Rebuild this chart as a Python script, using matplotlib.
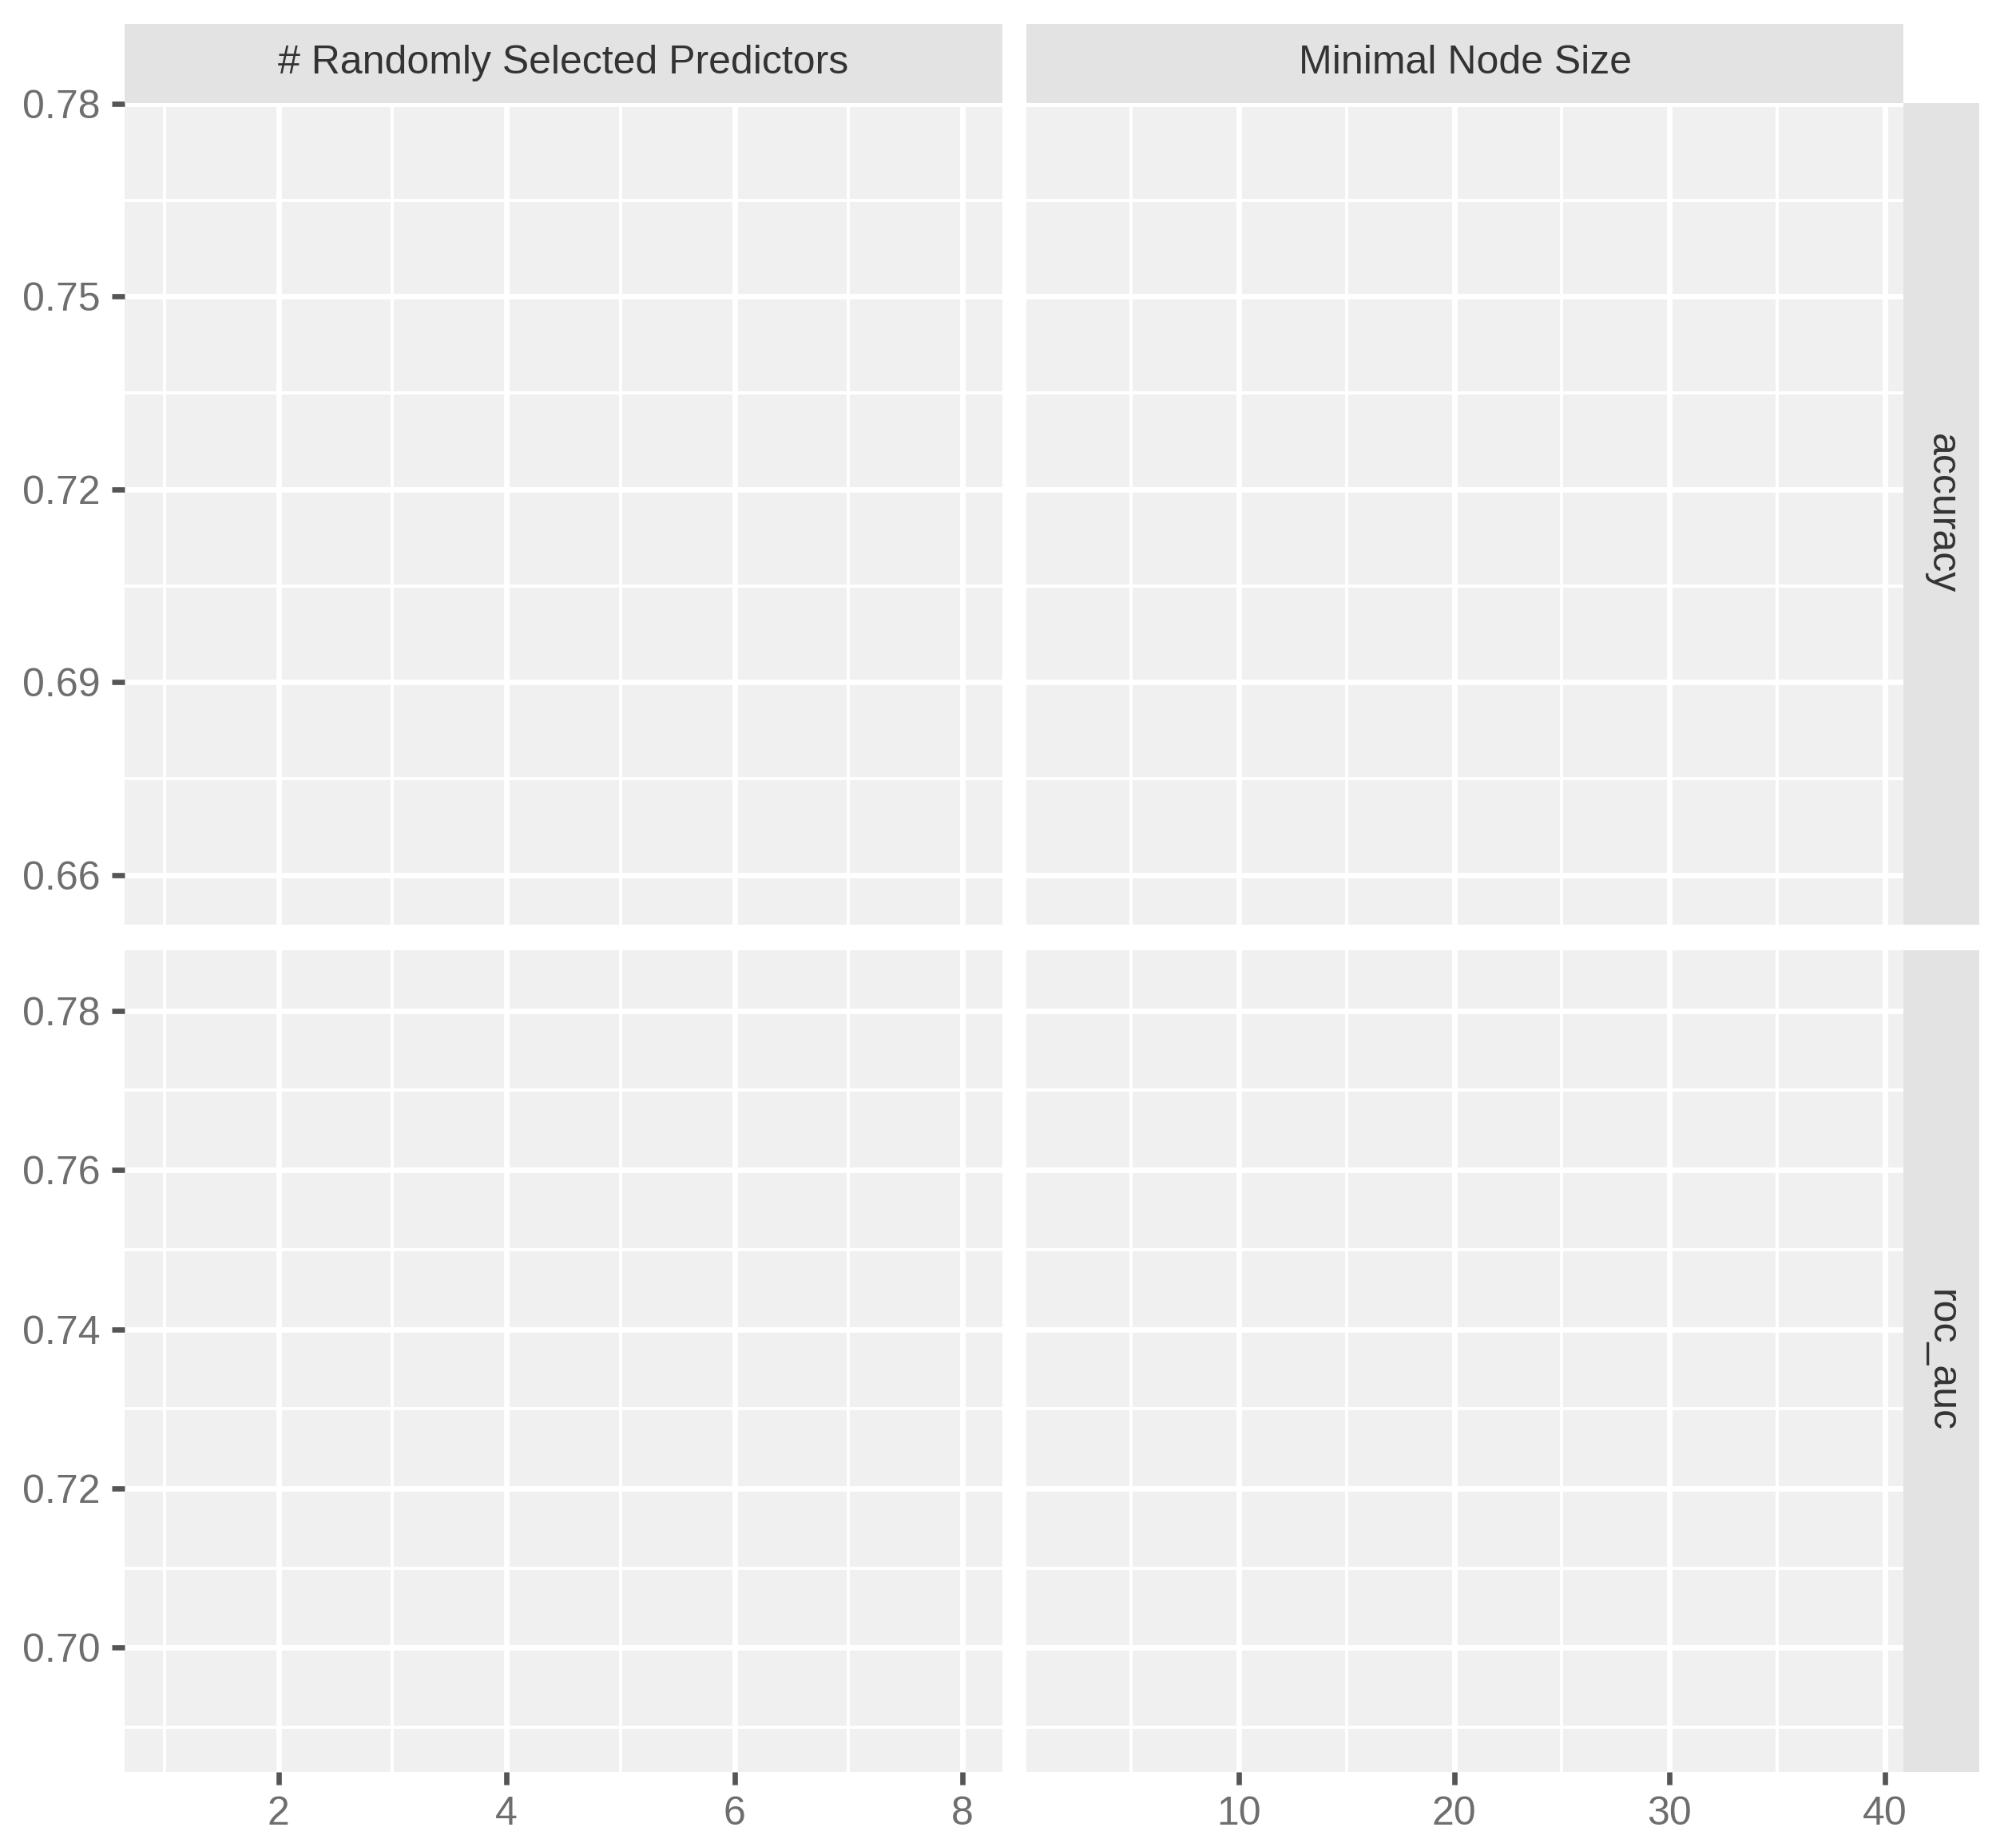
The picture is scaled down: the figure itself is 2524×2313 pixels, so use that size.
import matplotlib
matplotlib.use("Agg")
import matplotlib.pyplot as plt
from matplotlib.ticker import FixedLocator, FixedFormatter

plt.rcParams['font.family'] = ['Liberation Sans', 'DejaVu Sans']

W, H, DPI = 2524, 2313, 300

# facet labels
params = ["# Randomly Selected Predictors", "Minimal Node Size"]
metrics = ["accuracy", "roc_auc"]

# x scales per column (tuning parameter)
x_limits = [(0.65, 8.35), (0.15, 40.85)]
x_major = [[2, 4, 6, 8], [10, 20, 30, 40]]
x_minor = [[1, 3, 5, 7], [5, 15, 25, 35]]

# y scales per row (metric)
y_limits = [(0.6523, 0.7801), (0.6844, 0.7876)]
y_major = [[0.66, 0.69, 0.72, 0.75, 0.78], [0.70, 0.72, 0.74, 0.76, 0.78]]
y_minor = [[0.675, 0.705, 0.735, 0.765], [0.69, 0.71, 0.73, 0.75, 0.77]]

# panel boxes in pixels
cols = [(156, 1255), (1285, 2383)]
rows = [(129, 1158), (1190, 2219)]
strip_top = 30
strip_right = 2478

panel_bg = '#F0F0F0'
strip_bg = '#E3E3E3'
label_col = '#6E6E6E'
tick_col = '#555555'
strip_txt = '#333333'


def box(x0, y0, x1, y1):
    return [x0 / W, 1 - y1 / H, (x1 - x0) / W, (y1 - y0) / H]


fig = plt.figure(figsize=(W / DPI, H / DPI), dpi=DPI)

for r, metric in enumerate(metrics):
    for c, param in enumerate(params):
        x0, x1 = cols[c]
        y0, y1 = rows[r]
        ax = fig.add_axes(box(x0, y0, x1, y1))
        ax.set_facecolor(panel_bg)
        for s in ax.spines.values():
            s.set_visible(False)
        ax.set_xlim(*x_limits[c])
        ax.set_ylim(*y_limits[r])
        ax.xaxis.set_major_locator(FixedLocator(x_major[c]))
        ax.xaxis.set_minor_locator(FixedLocator(x_minor[c]))
        ax.yaxis.set_major_locator(FixedLocator(y_major[r]))
        ax.yaxis.set_minor_locator(FixedLocator(y_minor[r]))
        ax.grid(which='major', color='white', linewidth=1.65)
        ax.grid(which='minor', color='white', linewidth=0.95)
        ax.set_axisbelow(True)
        ax.tick_params(which='minor', length=0)
        ax.tick_params(which='major', length=3.9, width=1.6, color=tick_col,
                       labelsize=12, labelcolor=label_col, pad=3.3)
        if r == len(metrics) - 1:
            ax.xaxis.set_major_formatter(FixedFormatter([str(v) for v in x_major[c]]))
        else:
            ax.tick_params(axis='x', which='major', length=0, labelbottom=False)
        if c == 0:
            ax.yaxis.set_major_formatter(FixedFormatter(['%.2f' % v for v in y_major[r]]))
        else:
            ax.tick_params(axis='y', which='major', length=0, labelleft=False)

# column strips
for c, param in enumerate(params):
    x0, x1 = cols[c]
    sax = fig.add_axes(box(x0, strip_top, x1, rows[0][0]))
    sax.set_facecolor(strip_bg)
    sax.set_xticks([])
    sax.set_yticks([])
    for s in sax.spines.values():
        s.set_visible(False)
    sax.text(0.5, 0.5, param, ha='center', va='center', fontsize=12,
             color=strip_txt, transform=sax.transAxes)

# row strips
for r, metric in enumerate(metrics):
    y0, y1 = rows[r]
    sax = fig.add_axes(box(cols[-1][1], y0, strip_right, y1))
    sax.set_facecolor(strip_bg)
    sax.set_xticks([])
    sax.set_yticks([])
    for s in sax.spines.values():
        s.set_visible(False)
    sax.text(0.5, 0.5, metric, ha='center', va='center', fontsize=12,
             rotation=270, color=strip_txt, transform=sax.transAxes)

fig.savefig('out.png', dpi=DPI, facecolor='white')
